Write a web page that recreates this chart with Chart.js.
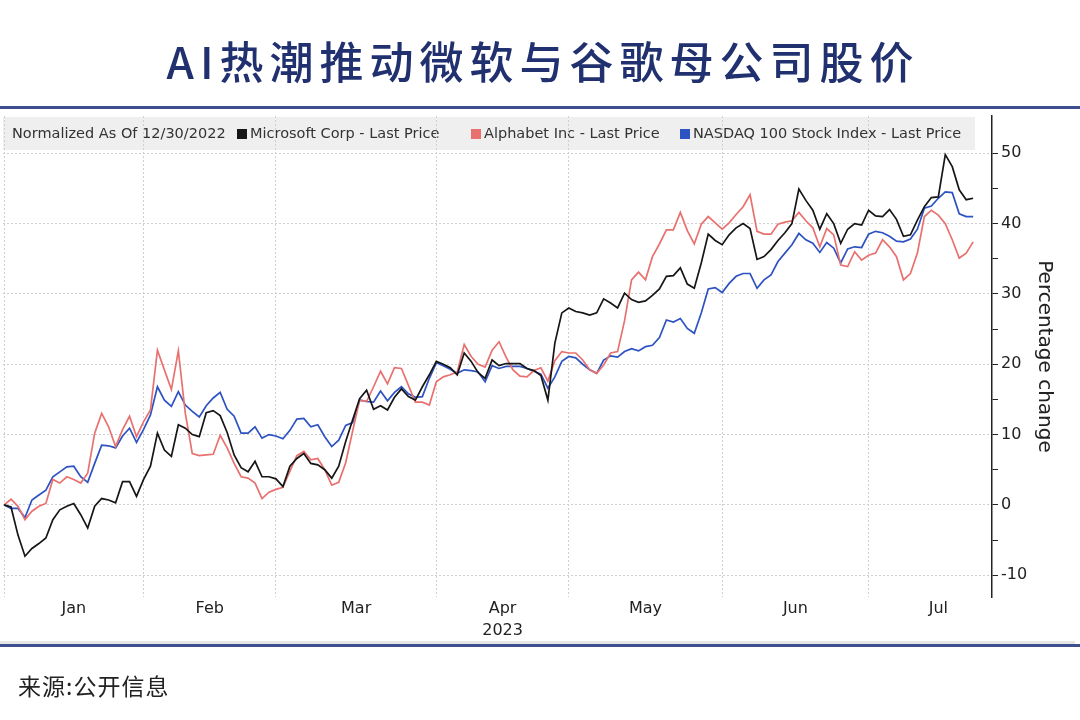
<!DOCTYPE html>
<html>
<head>
<meta charset="utf-8">
<script src="https://cdn.jsdelivr.net/npm/chart.js"></script>
<style>
  html, body { margin: 0; padding: 0; background: #fff; }
  #page { position: relative; width: 1080px; height: 720px; overflow: hidden; background: #fff; }
  #chart { position: absolute; left: 0; top: 0; }
  #title {
    position: absolute; top: 30px; left: 0; width: 1080px; padding-left: 6px; box-sizing: border-box;
    text-align: center; font-family: "Noto Sans CJK SC"; font-weight: 500; font-size: 44px;
    letter-spacing: 6px; line-height: 60px; color: #21306f;
  }
  .rule { position: absolute; left: 0; width: 1080px; height: 3px; background: #3e4f8f; }
  #strip { position: absolute; left: 0; top: 641px; width: 1075px; height: 3px; background: #e6e6e6; }
  #source {
    position: absolute; left: 18px; top: 670px; font-family: "Noto Sans CJK SC"; font-size: 23px;
    line-height: 30px; letter-spacing: 1px; color: #222;
  }
</style>
</head>
<body>
<div id="page">
  <canvas id="chart" width="1080" height="720"></canvas>
  <div id="title">AI热潮推动微软与谷歌母公司股价</div>
  <div class="rule" style="top:106px"></div>
  <div id="strip"></div>
  <div class="rule" style="top:644px"></div>
  <div id="source">来源:公开信息</div>
</div>
<script>
// x axis: trading sessions since the base day 12/30/2022 (index 0)
const monthLabels = ["Jan", "Feb", "Mar", "Apr", "May", "Jun", "Jul"];
const yearLabel = "2023";
const yearUnderMonth = 3; // "2023" sits under Apr
const tradingDays = [20, 19, 23, 19, 22, 21, 20];
const normalizedNote = "Normalized As Of 12/30/2022";
const seriesNames = [
  "Microsoft Corp - Last Price",
  "Alphabet Inc - Last Price",
  "NASDAQ 100 Stock Index - Last Price"
];
const yMajorTicks = [-10, 0, 10, 20, 30, 40, 50];
const yMinorTicks = [-5, 5, 15, 25, 35, 45];

// percentage change vs 12/30/2022, one value per trading day
const msft = [
  0, -0.3, -4.3, -7.3, -6.2, -5.5, -4.7, -2.1, -0.7, -0.2,
  0.2, -1.4, -3.3, -0.2, 0.9, 0.7, 0.3, 3.3, 3.3, 1.2,
  3.6, 5.5, 10.2, 7.8, 6.9, 11.4, 10.9, 10.0, 9.7, 13.1,
  13.4, 12.7, 10.3, 7.1, 5.3, 4.7, 6.2, 4.0, 4.0, 3.7,
  2.6, 5.5, 6.6, 7.3, 5.9, 5.7, 5.0, 3.8, 5.5, 9.0,
  12.1, 15.1, 16.3, 13.6, 14.1, 13.5, 15.3, 16.5, 15.4, 14.9,
  16.8, 18.5, 20.4, 20.0, 19.5, 18.5, 21.6, 20.4, 18.8, 18.0,
  20.6, 19.8, 20.1, 20.1, 20.1, 19.4, 19.1, 18.4, 14.9, 23.0,
  27.3, 28.0, 27.5, 27.3, 27.0, 27.3, 29.3, 28.7, 28.0, 30.1,
  29.2, 28.8, 29.0, 29.8, 30.7, 32.5, 32.6, 33.7, 31.4, 30.8,
  34.4, 38.5, 37.6, 37.0, 38.4, 39.4, 40.0, 39.3, 34.9, 35.3,
  36.3, 37.6, 38.7, 40.0, 44.9, 43.3, 41.9, 39.2, 41.4, 40.0,
  37.2, 39.2, 40.0, 39.8, 41.9, 41.1, 41.0, 42.0, 40.6, 38.2,
  38.4, 40.5, 42.4, 43.7, 43.8, 49.8, 48.1, 44.8, 43.4, 43.6
];
const googl = [
  0, 0.8, -0.2, -2.1, -0.9, -0.2, 0.2, 3.6, 3.1, 4.0,
  3.6, 3.1, 4.5, 10.2, 13.0, 11.1, 8.3, 10.7, 12.6, 9.7,
  11.8, 13.5, 22.0, 19.2, 16.4, 21.9, 13.0, 7.3, 7.0, 7.1,
  7.2, 9.9, 8.1, 5.9, 4.0, 3.8, 3.1, 0.9, 1.8, 2.2,
  2.5, 4.8, 7.0, 7.6, 6.4, 6.6, 5.0, 2.8, 3.2, 6.0,
  10.5, 14.9, 14.7, 16.8, 19.0, 17.2, 19.5, 19.4, 17.0, 14.6,
  14.6, 14.2, 17.5, 18.2, 18.5, 18.9, 22.8, 21.1, 20.0, 19.6,
  22.0, 23.2, 21.0, 19.2, 18.3, 18.2, 19.1, 19.5, 17.6, 20.5,
  21.8, 21.6, 21.6, 20.6, 19.2, 18.7, 19.9, 21.6, 21.8, 26.2,
  32.0, 33.1, 32.0, 35.3, 37.1, 39.1, 39.1, 41.6, 39.0, 37.1,
  39.9, 41.0, 40.1, 39.2, 40.1, 41.3, 42.4, 44.1, 38.9, 38.5,
  38.5, 39.9, 40.2, 40.4, 41.6, 40.4, 39.4, 36.7, 39.3, 38.4,
  34.1, 33.9, 36.0, 34.8, 35.5, 35.8, 37.7, 36.7, 35.3, 32.0,
  32.9, 35.8, 41.0, 41.9, 41.2, 40.0, 37.7, 35.1, 35.8, 37.4
];
const ndx = [
  0, -0.5, -0.5, -1.8, 0.7, 1.4, 2.1, 4.0, 4.7, 5.4,
  5.5, 4.0, 3.2, 5.9, 8.5, 8.4, 8.1, 9.8, 10.9, 8.9,
  10.7, 12.8, 16.8, 14.9, 14.0, 16.1, 14.2, 13.3, 12.5, 14.1,
  15.2, 16.0, 13.6, 12.6, 10.2, 10.2, 11.1, 9.5, 10.0, 9.8,
  9.4, 10.6, 12.2, 12.3, 11.1, 11.4, 9.7, 8.3, 9.2, 11.3,
  11.7, 14.9, 14.7, 14.6, 16.2, 14.8, 16.0, 16.8, 15.8, 15.3,
  15.4, 18.0, 20.2, 19.8, 19.3, 18.7, 19.2, 19.1, 18.9, 17.5,
  19.8, 19.4, 19.7, 19.7, 19.7, 19.4, 19.0, 18.6, 16.6, 18.2,
  20.4, 21.1, 20.9, 20.0, 19.2, 18.7, 20.6, 21.2, 21.0, 21.8,
  22.2, 21.9, 22.5, 22.7, 23.8, 26.3, 26.0, 26.5, 25.1, 24.4,
  27.3, 30.7, 30.9, 30.2, 31.5, 32.5, 32.9, 32.9, 30.8, 32.0,
  32.7, 34.6, 35.8, 37.0, 38.6, 37.7, 37.2, 35.9, 37.3, 36.5,
  34.4, 36.4, 36.7, 36.6, 38.5, 38.9, 38.7, 38.2, 37.5, 37.4,
  37.8, 39.2, 42.2, 42.5, 43.6, 44.5, 44.4, 41.4, 41.0, 41.0
];

const seriesColors = ["#161616", "#e8716f", "#2d52c2"];
const allSeries = [msft, googl, ndx];

// month boundaries (gridlines) and month centres (labels), in session units
const monthEnds = [0];
tradingDays.forEach(d => monthEnds.push(monthEnds[monthEnds.length - 1] + d));
const monthMid = monthLabels.map((m, i) => (monthEnds[i] + monthEnds[i + 1]) / 2);
const xMin = -0.15, xMax = 141.7;

const font = "DejaVu Sans";

// grey legend strip drawn inside the top of the plot area
const legendStrip = {
  id: "legendStrip",
  beforeDraw(chart) {
    const { ctx, chartArea } = chart;
    ctx.save();
    ctx.fillStyle = "#efefef";
    ctx.fillRect(chartArea.left, chartArea.top + 1, 972, 33);
    ctx.font = "14.5px '" + font + "'";
    ctx.textBaseline = "middle";
    const y = chartArea.top + 18;
    ctx.fillStyle = "#333";
    ctx.fillText(normalizedNote, 12, y);
    const starts = [237, 471, 680];
    chart.data.datasets.forEach((ds, i) => {
      ctx.fillStyle = ds.borderColor;
      ctx.fillRect(starts[i], y - 5, 10, 10);
      ctx.fillStyle = "#333";
      ctx.fillText(ds.label, starts[i] + 13, y);
    });
    ctx.restore();
  }
};

new Chart(document.getElementById("chart"), {
  type: "line",
  data: {
    datasets: allSeries.map((s, k) => ({
      label: seriesNames[k],
      data: s.map((v, i) => ({ x: i, y: v })),
      borderColor: seriesColors[k],
      backgroundColor: seriesColors[k],
      borderWidth: 1.7,
      pointRadius: 0,
      tension: 0,
      xAxisID: "x",
      yAxisID: "y"
    }))
  },
  options: {
    responsive: false,
    animation: false,
    layout: { padding: { top: 116, left: 3, right: 0, bottom: 75 } },
    plugins: { legend: { display: false }, tooltip: { enabled: false } },
    scales: {
      x: {
        type: "linear", position: "bottom", min: xMin, max: xMax,
        afterBuildTicks: s => { s.ticks = monthMid.map(v => ({ value: v })); },
        afterFit: s => { s.height = 48; },
        grid: { display: false, drawTicks: false },
        border: { display: false },
        ticks: {
          autoSkip: false, maxRotation: 0, padding: 1, color: "#222",
          font: { family: font, size: 16, lineHeight: 1.35 },
          callback: (v, i) => i === yearUnderMonth ? [monthLabels[i], yearLabel] : monthLabels[i]
        }
      },
      xg: {
        type: "linear", position: "bottom", min: xMin, max: xMax,
        afterBuildTicks: s => { s.ticks = monthEnds.slice(0, monthLabels.length).map(v => ({ value: v })); },
        afterFit: s => { s.height = 0; },
        grid: { color: "#cfcfcf", drawTicks: false },
        border: { display: false, dash: [2, 2] },
        ticks: { display: false }
      },
      y: {
        type: "linear", position: "right", min: -13.1, max: 55.3,
        afterBuildTicks: s => {
          s.ticks = yMajorTicks.concat(yMinorTicks).sort((a, b) => a - b).map(v => ({ value: v }));
        },
        afterFit: s => { s.width = 88; },
        grid: {
          color: c => (c.tick && yMajorTicks.includes(c.tick.value)) ? "#cfcfcf" : "rgba(0,0,0,0)",
          tickColor: "#222", tickLength: 6, tickWidth: 1
        },
        border: { display: true, color: "#222", width: 1.5, dash: [2, 2] },
        ticks: {
          color: "#222", padding: 3, font: { family: font, size: 16 },
          callback: v => yMajorTicks.includes(v) ? String(v) : ""
        },
        title: {
          display: true, text: "Percentage change", color: "#222",
          font: { family: font, size: 20 }, padding: { top: 24, bottom: 0 }
        }
      }
    }
  },
  plugins: [legendStrip]
});
</script>
</body>
</html>
